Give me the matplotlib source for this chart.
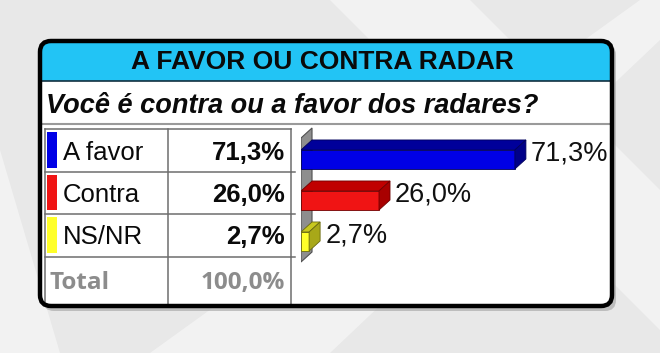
import matplotlib.pyplot as plt
from matplotlib.patches import FancyBboxPatch, Rectangle, Polygon

# dados da pesquisa
categorias = ['A favor', 'Contra', 'NS/NR']
valores = [71.3, 26.0, 2.7]
rotulos = ['71,3%', '26,0%', '2,7%']
total_txt = ['Total', '100,0%']
titulo = 'A FAVOR OU CONTRA RADAR'
pergunta = 'Você é contra ou a favor dos radares?'

cores_frente = ['#0000e6', '#f01414', '#ffff2a']
cores_topo = ['#00009a', '#c00000', '#c8c81e']
cores_lado = ['#000088', '#a80000', '#a8a818']
cores_borda = ['#00005a', '#700000', '#6a6a10']

plt.rcParams['font.family'] = ['Liberation Sans', 'DejaVu Sans']

fig = plt.figure(figsize=(6.6, 3.53), dpi=100)
ax = fig.add_axes([0, 0, 1, 1])
ax.set_xlim(0, 660)
ax.set_ylim(353, 0)
ax.axis('off')

# fundo cinza com faixas claras
ax.add_patch(Rectangle((0, 0), 660, 353, fc='#e8e8e8', ec='none', zorder=0))
for pts in [[(0, 150), (0, 353), (60, 353)], [(330, 0), (470, 0), (660, 190), (660, 330)],
            [(150, 353), (330, 353), (660, 40), (660, 0), (640, 0)]]:
    ax.add_patch(Polygon(pts, closed=True, fc='white', ec='none', alpha=0.45, zorder=0))

# sombra + caixa
ax.add_patch(FancyBboxPatch((43, 44), 573, 267, boxstyle='round,pad=0,rounding_size=11',
                            fc='#9a9a9a', ec='none', alpha=0.55, zorder=1))
caixa = FancyBboxPatch((40, 41), 572, 265, boxstyle='round,pad=0,rounding_size=11',
                       fc='white', ec='none', zorder=2)
ax.add_patch(caixa)
faixa = Rectangle((38, 38), 580, 43, fc='#22c4f5', ec='none', zorder=3)
faixa.set_clip_path(caixa)
ax.add_patch(faixa)
ax.add_patch(FancyBboxPatch((40, 41), 572, 265, boxstyle='round,pad=0,rounding_size=11',
                            fc='none', ec='black', lw=3.2, zorder=10))
ax.plot([41, 611], [81, 81], color='#123040', lw=1.2, zorder=4)
ax.plot([41, 611], [124, 124], color='#9a9a9a', lw=1.5, zorder=4)

ax.text(322, 62, titulo, ha='center', va='center', fontsize=19, fontweight='bold',
        color='#0a0a0a', zorder=5)
ax.text(46, 113, pergunta, ha='left', va='baseline', fontsize=19.5, fontweight='bold',
        fontstyle='italic', color='#0a0a0a', zorder=5)

# tabela
linhas_y = [129, 172, 214, 257, 305]
for y in linhas_y[:-1]:
    ax.plot([45, 291], [y, y], color='#6e6e6e', lw=1.1, zorder=4)
for y in linhas_y[1:4]:
    ax.plot([291, 295], [y, y], color='#6e6e6e', lw=1.1, zorder=4)
for x in [45, 168, 291]:
    ax.plot([x, x], [129, 305], color='#6e6e6e', lw=1.1, zorder=4)

for i, (cat, rot) in enumerate(zip(categorias, rotulos)):
    y0, y1 = linhas_y[i], linhas_y[i + 1]
    ax.add_patch(Rectangle((47, y0 + 3), 10, y1 - y0 - 7, fc=cores_frente[i], ec='none', zorder=5))
    yb = (y0 + y1) / 2 + 9
    ax.text(63, yb, cat, ha='left', va='baseline', fontsize=18.5, color='#0a0a0a', zorder=5)
    ax.text(285, yb, rot, ha='right', va='baseline', fontsize=18.5, fontweight='bold',
            color='#0a0a0a', zorder=5)

ax.text(50, 289, total_txt[0], ha='left', va='baseline', fontsize=17.5, fontweight='bold',
        family=['Open Sans', 'DejaVu Sans'], color='#8c8c8c', zorder=5)
ax.text(285, 289, total_txt[1], ha='right', va='baseline', fontsize=17.5, fontweight='bold',
        family=['Open Sans', 'DejaVu Sans'], color='#8c8c8c', zorder=5)

# grafico de barras 3D
bx = fig.add_axes([301 / 660, 1 - 270 / 353, 330 / 660, 145 / 353])
bx.set_xlim(0, 110)
bx.set_ylim(2.695, -0.841)
bx.axis('off')
bx.patch.set_alpha(0)

dx, dy = 3.67, -0.244
h = 0.232
# parede lateral
bx.add_patch(Polygon([(0, -0.524), (dx, -0.524 + dy), (dx, 2.256), (0, 2.5)], closed=True,
                     fc='#8e8e8e', ec='#505050', lw=0.8, zorder=1))
pos = list(range(len(valores)))
bx.barh(pos, valores, height=2 * h, color=cores_frente, edgecolor=cores_borda, lw=0.6, zorder=3)
for i, v in enumerate(valores):
    c = pos[i]
    topo = [(0, c - h), (v, c - h), (v + dx, c - h + dy), (dx, c - h + dy)]
    lado = [(v, c - h), (v + dx, c - h + dy), (v + dx, c + h + dy), (v, c + h)]
    bx.add_patch(Polygon(topo, closed=True, fc=cores_topo[i], ec=cores_borda[i], lw=0.6, zorder=3))
    bx.add_patch(Polygon(lado, closed=True, fc=cores_lado[i], ec=cores_borda[i], lw=0.6, zorder=3))
    bx.text(v + dx + 1.7, c + 0.02, rotulos[i], ha='left', va='baseline', fontsize=19.5,
            color='#111111', zorder=4)

fig.savefig('out.png', dpi=100)
